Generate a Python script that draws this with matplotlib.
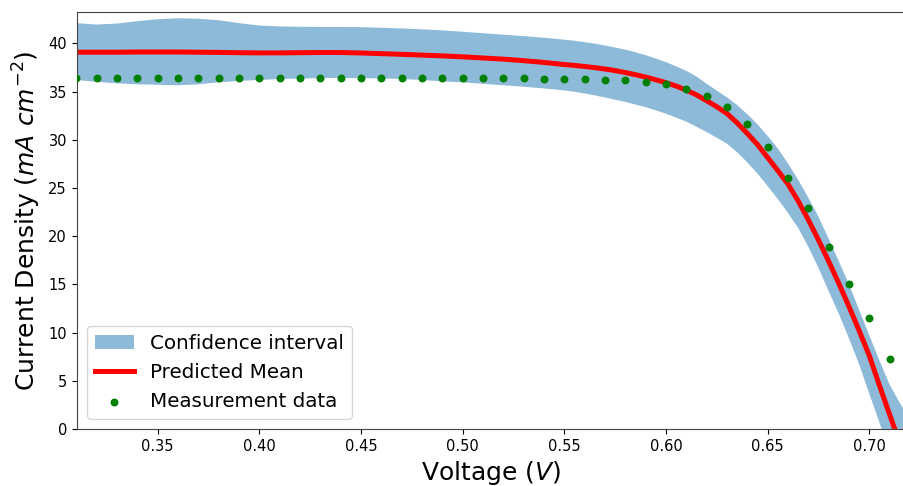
import numpy as np
import matplotlib
matplotlib.use("Agg")
import matplotlib.pyplot as plt

# ---- data ----
voltage_meas = [0.31, 0.32, 0.33, 0.34, 0.35, 0.36, 0.37, 0.38, 0.39, 0.40,
                0.41, 0.42, 0.43, 0.44, 0.45, 0.46, 0.47, 0.48, 0.49, 0.50,
                0.51, 0.52, 0.53, 0.54, 0.55, 0.56, 0.57, 0.58, 0.59, 0.60,
                0.61, 0.62, 0.63, 0.64, 0.65, 0.66, 0.67, 0.68, 0.69, 0.70, 0.71]
current_meas = [36.42, 36.42, 36.42, 36.42, 36.42, 36.42, 36.42, 36.42, 36.42, 36.42,
                36.42, 36.42, 36.42, 36.42, 36.42, 36.4, 36.4, 36.4, 36.4, 36.4,
                36.38, 36.38, 36.37, 36.35, 36.32, 36.3, 36.24, 36.17, 35.96, 35.79,
                35.3, 34.54, 33.37, 31.62, 29.2, 26.03, 22.95, 18.84, 15.04, 11.48, 7.23]

voltage_model = [0.31, 0.32, 0.33, 0.34, 0.35, 0.36, 0.37, 0.38, 0.39, 0.40,
                 0.41, 0.42, 0.43, 0.44, 0.45, 0.46, 0.47, 0.48, 0.49, 0.50,
                 0.51, 0.52, 0.53, 0.54, 0.55, 0.555, 0.56, 0.565, 0.57, 0.575,
                 0.58, 0.585, 0.59, 0.595, 0.60, 0.605, 0.61, 0.615, 0.62, 0.625,
                 0.63, 0.635, 0.64, 0.645, 0.65, 0.655, 0.66, 0.665, 0.67, 0.675,
                 0.68, 0.685, 0.69, 0.695, 0.70, 0.705, 0.71, 0.715, 0.72]
mean_pred = [39.08, 39.08, 39.08, 39.1, 39.1, 39.1, 39.08, 39.06, 39.03, 39.01,
             39.01, 39.03, 39.05, 39.05, 39.0, 38.93, 38.86, 38.78, 38.7, 38.6,
             38.48, 38.36, 38.2, 38.02, 37.8, 37.71, 37.6, 37.48, 37.34, 37.17,
             36.97, 36.75, 36.5, 36.22, 35.92, 35.57, 35.15, 34.65, 34.05, 33.42,
             32.72, 31.75, 30.65, 29.5, 28.15, 26.8, 25.4, 23.65, 21.7, 19.6,
             17.4, 15.1, 12.7, 10.2, 7.6, 4.5, 1.5, -1.5, -4.5]
upper_ci = [42.1, 41.95, 42.05, 42.3, 42.5, 42.6, 42.55, 42.4, 42.1, 41.85,
            41.75, 41.72, 41.7, 41.7, 41.68, 41.62, 41.55, 41.45, 41.35, 41.2,
            41.05, 40.9, 40.75, 40.58, 40.38, 40.27, 40.12, 39.97, 39.78, 39.57,
            39.35, 39.07, 38.77, 38.43, 38.05, 37.62, 37.15, 36.55, 35.82, 35.1,
            34.4, 33.6, 32.65, 31.6, 30.4, 29.1, 27.55, 25.85, 24.0, 22.0,
            19.75, 17.4, 15.0, 12.35, 9.7, 7.1, 4.6, 2.7, 0.9]
lower_ci = [36.2, 36.0, 35.85, 35.75, 35.7, 35.65, 35.75, 35.95, 36.1, 36.2,
            36.3, 36.35, 36.4, 36.4, 36.4, 36.35, 36.3, 36.2, 36.05, 35.95,
            35.8, 35.65, 35.5, 35.32, 35.12, 34.98, 34.8, 34.6, 34.38, 34.15,
            33.93, 33.65, 33.38, 33.05, 32.7, 32.3, 31.88, 31.35, 30.8, 30.2,
            29.6, 28.7, 27.65, 26.5, 25.2, 23.85, 22.4, 20.85, 18.9, 16.7,
            14.3, 11.95, 9.4, 6.7, 3.65, 0.65, -2.4, -5.4, -8.4]

xticks = [0.35, 0.40, 0.45, 0.50, 0.55, 0.60, 0.65, 0.70]
yticks = [0, 5, 10, 15, 20, 25, 30, 35, 40]

# ---- plot ----
fig = plt.figure(figsize=(9.04, 4.86), dpi=100)
ax = fig.add_axes([76.7 / 904, 57 / 486, (904.9 - 76.7) / 904, (429 - 12) / 486])

ax.fill_between(voltage_model, lower_ci, upper_ci, color='tab:blue', alpha=0.5,
                linewidth=0, label='Confidence interval')
ax.plot(voltage_model, mean_pred, color='red', lw=3.6, label='Predicted Mean',
        solid_joinstyle='round')
ax.scatter(voltage_meas, current_meas, color='green', s=22, zorder=3,
           label='Measurement data')

ax.set_xlim(0.3102, 0.7175)
ax.set_ylim(0, 43.25)
ax.set_xticks(xticks)
ax.set_xticklabels([f"{t:.2f}" for t in xticks])
ax.set_yticks(yticks)
ax.tick_params(labelsize=10.5)

for s in ax.spines.values():
    s.set_color('#444444')

ax.set_xlabel('Voltage ($V$)', fontsize=18)
ax.set_ylabel('Current Density ($mA\\ cm^{-2}$)', fontsize=18)

ax.legend(loc='lower left', fontsize=14.3)

fig.savefig('out.png', dpi=100)
